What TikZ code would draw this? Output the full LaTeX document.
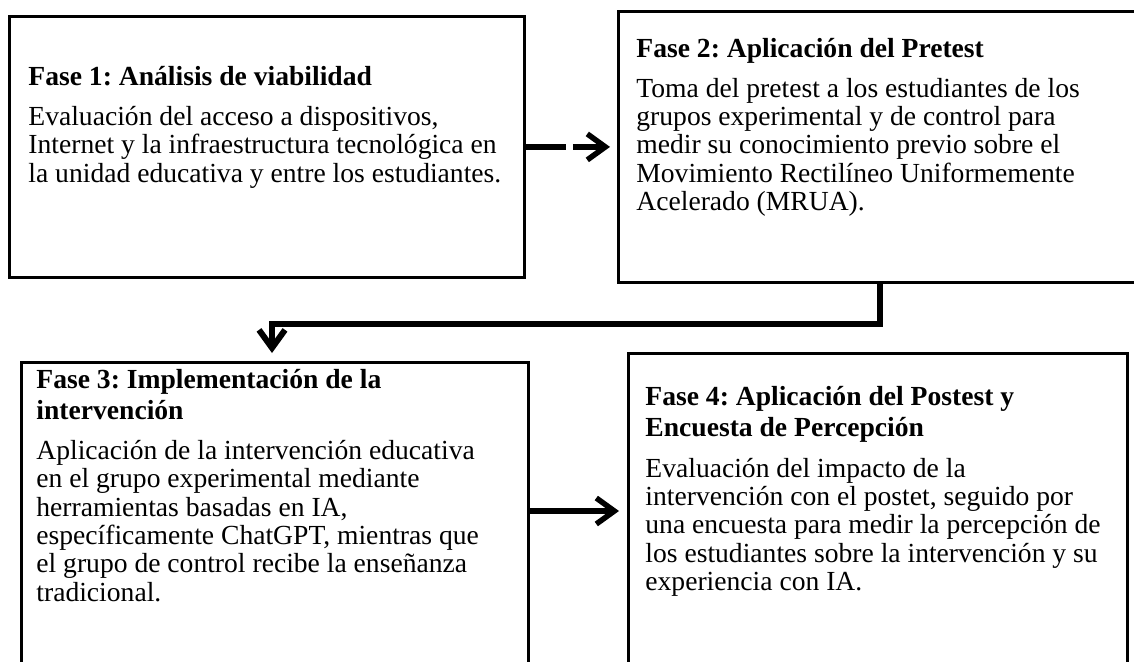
\documentclass[tikz,border=0pt]{standalone}
\usepackage{fontspec}
\setmainfont{Liberation Serif}
\usetikzlibrary{arrows.meta}
\frenchspacing
\begin{document}
\begin{tikzpicture}[x=0.5pt,y=-0.5pt,
  box/.style={draw=black, line width=1.4pt, rectangle, inner sep=0pt, anchor=north west},
  ln/.style={anchor=base west, inner sep=0pt, font=\fontsize{13.8}{16}\selectfont\frenchspacing},
  hd/.style={anchor=base west, inner sep=0pt, font=\fontsize{13.8}{16}\selectfont\bfseries\frenchspacing},
  arr/.style={line width=2.75pt, -{Straight Barb[length=9pt,width=13pt]}},
  elbow/.style={line width=3pt, -{Straight Barb[length=9pt,width=13pt]}}
]
\useasboundingbox (0,0) rectangle (1134,661);
\begin{scope}
\clip (0,0) rectangle (1134,661);
\node[box, minimum width=257.5pt, minimum height=130.5pt] (b1) at (8,15) {};
\node[box, minimum width=266.5pt, minimum height=135.5pt] (b2) at (617,10) {};
\node[box, minimum width=253.5pt, minimum height=169.5pt] (b3) at (20,361) {};
\node[box, minimum width=249.5pt, minimum height=174pt] (b4) at (627,352) {};
\end{scope}

% Box 1
\node[hd] (t1h) at (28,85) {Fase 1: Análisis de viabilidad};
\node[ln] (t1a) at (28,125) {Evaluación del acceso a dispositivos,};
\node[ln] (t1b) at (28,153) {Internet y la infraestructura tecnológica en};
\node[ln] (t1c) at (28,182) {la unidad educativa y entre los estudiantes.};

% Box 2
\node[hd] (t2h) at (636,57) {Fase 2: Aplicación del Pretest};
\node[ln] (t2a) at (636,97) {Toma del pretest a los estudiantes de los};
\node[ln] (t2b) at (636,125) {grupos experimental y de control para};
\node[ln] (t2c) at (636,153) {medir su conocimiento previo sobre el};
\node[ln] (t2d) at (636,182) {Movimiento Rectilíneo Uniformemente};
\node[ln] (t2e) at (636,210) {Acelerado (MRUA).};

% Box 3
\node[hd] (t3h) at (36,388) {Fase 3: Implementación de la};
\node[hd] (t3i) at (36,419) {intervención};
\node[ln] (t3a) at (36,459) {Aplicación de la intervención educativa};
\node[ln] (t3b) at (36,487) {en el grupo experimental mediante};
\node[ln] (t3c) at (36,516) {herramientas basadas en IA,};
\node[ln] (t3d) at (36,544) {específicamente ChatGPT, mientras que};
\node[ln] (t3e) at (36,572) {el grupo de control recibe la enseñanza};
\node[ln] (t3f) at (36,601) {tradicional.};

% Box 4
\node[hd] (t4h) at (645,405) {Fase 4: Aplicación del Postest y};
\node[hd] (t4i) at (645,436) {Encuesta de Percepción};
\node[ln] (t4a) at (645,477) {Evaluación del impacto de la};
\node[ln] (t4b) at (645,505) {intervención con el postet, seguido por};
\node[ln] (t4c) at (645,533) {una encuesta para medir la percepción de};
\node[ln] (t4d) at (645,562) {los estudiantes sobre la intervención y su};
\node[ln] (t4e) at (645,590) {experiencia con IA.};

% Connectors
\draw[arr, dash pattern=on 20pt off 3.5pt on 200pt, shorten >=3.5pt] (b1.east) -- (b1.east -| b2.west);
\draw[elbow] ([xshift=131.5pt]b2.south west) -- ++(0,40) -| ([xshift=126pt,yshift=4pt]b3.north west);
\coordinate (p3) at ([yshift=-75pt]b3.north east);
\draw[arr, shorten >=4pt] (p3) -- (p3 -| b4.west);
\end{tikzpicture}
\end{document}
